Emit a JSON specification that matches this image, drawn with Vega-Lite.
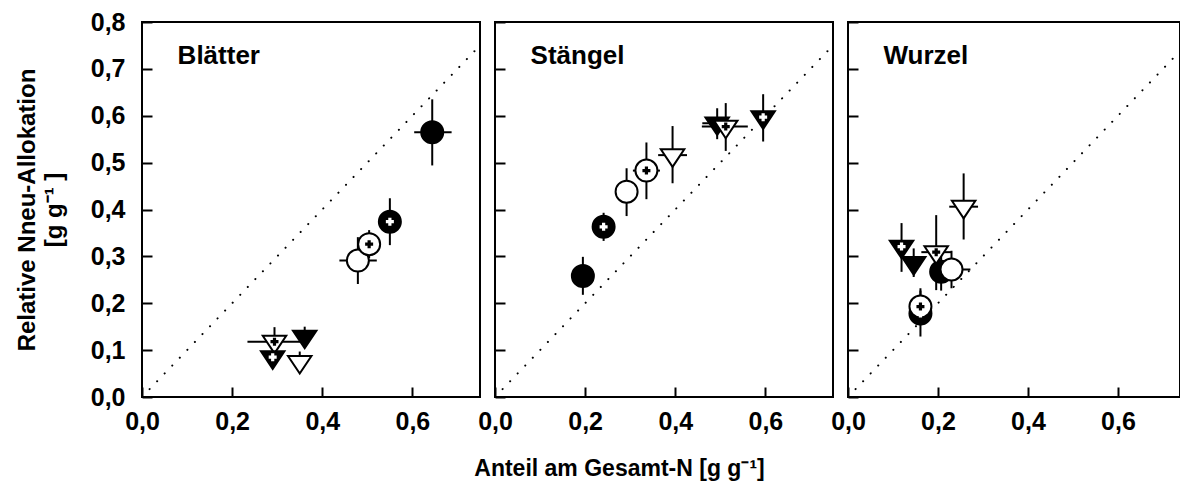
{
  "$schema": "https://vega.github.io/schema/vega-lite/v6.json",
  "padding": {"left": 14, "top": 9, "right": 0, "bottom": 0},
  "background": "white",
  "datasets": {
    "pts": [
      {"panel": "Blätter", "s": "fc", "x": 0.644, "xlo": 0.604, "xhi": 0.687, "y": 0.565, "ylo": 0.494, "yhi": 0.635},
      {"panel": "Blätter", "s": "fcp", "x": 0.550, "xlo": 0.540, "xhi": 0.560, "y": 0.374, "ylo": 0.324, "yhi": 0.424},
      {"panel": "Blätter", "s": "ft", "x": 0.361, "xlo": 0.351, "xhi": 0.371, "y": 0.129, "ylo": 0.110, "yhi": 0.150},
      {"panel": "Blätter", "s": "oc", "x": 0.479, "xlo": 0.438, "xhi": 0.521, "y": 0.291, "ylo": 0.241, "yhi": 0.341},
      {"panel": "Blätter", "s": "ocp", "x": 0.504, "xlo": 0.484, "xhi": 0.524, "y": 0.326, "ylo": 0.296, "yhi": 0.356},
      {"panel": "Blätter", "s": "ot", "x": 0.350, "xlo": 0.340, "xhi": 0.360, "y": 0.075, "ylo": 0.055, "yhi": 0.097},
      {"panel": "Blätter", "s": "otp", "x": 0.294, "xlo": 0.234, "xhi": 0.354, "y": 0.118, "ylo": 0.088, "yhi": 0.149},
      {"panel": "Blätter", "s": "ftp", "x": 0.290, "xlo": 0.280, "xhi": 0.300, "y": 0.085, "ylo": 0.065, "yhi": 0.105},
      {"panel": "Stängel", "s": "fc", "x": 0.195, "xlo": 0.185, "xhi": 0.205, "y": 0.258, "ylo": 0.218, "yhi": 0.299},
      {"panel": "Stängel", "s": "fcp", "x": 0.241, "xlo": 0.231, "xhi": 0.251, "y": 0.363, "ylo": 0.333, "yhi": 0.393},
      {"panel": "Stängel", "s": "ft", "x": 0.493, "xlo": 0.460, "xhi": 0.526, "y": 0.584, "ylo": 0.550, "yhi": 0.616},
      {"panel": "Stängel", "s": "oc", "x": 0.292, "xlo": 0.282, "xhi": 0.302, "y": 0.438, "ylo": 0.386, "yhi": 0.488},
      {"panel": "Stängel", "s": "ocp", "x": 0.336, "xlo": 0.306, "xhi": 0.366, "y": 0.483, "ylo": 0.422, "yhi": 0.543},
      {"panel": "Stängel", "s": "ot", "x": 0.394, "xlo": 0.362, "xhi": 0.426, "y": 0.516, "ylo": 0.456, "yhi": 0.578},
      {"panel": "Stängel", "s": "otp", "x": 0.512, "xlo": 0.459, "xhi": 0.561, "y": 0.577, "ylo": 0.525, "yhi": 0.627},
      {"panel": "Stängel", "s": "ftp", "x": 0.595, "xlo": 0.585, "xhi": 0.605, "y": 0.597, "ylo": 0.545, "yhi": 0.646},
      {"panel": "Wurzel", "s": "fc", "x": 0.207, "xlo": 0.192, "xhi": 0.222, "y": 0.267, "ylo": 0.227, "yhi": 0.307},
      {"panel": "Wurzel", "s": "fcp", "x": 0.161, "xlo": 0.151, "xhi": 0.171, "y": 0.178, "ylo": 0.129, "yhi": 0.227},
      {"panel": "Wurzel", "s": "ft", "x": 0.146, "xlo": 0.136, "xhi": 0.156, "y": 0.286, "ylo": 0.256, "yhi": 0.317},
      {"panel": "Wurzel", "s": "oc", "x": 0.230, "xlo": 0.190, "xhi": 0.272, "y": 0.272, "ylo": 0.232, "yhi": 0.312},
      {"panel": "Wurzel", "s": "ocp", "x": 0.161, "xlo": 0.151, "xhi": 0.171, "y": 0.193, "ylo": 0.153, "yhi": 0.232},
      {"panel": "Wurzel", "s": "ot", "x": 0.257, "xlo": 0.225, "xhi": 0.289, "y": 0.406, "ylo": 0.336, "yhi": 0.477},
      {"panel": "Wurzel", "s": "otp", "x": 0.196, "xlo": 0.163, "xhi": 0.229, "y": 0.309, "ylo": 0.228, "yhi": 0.388},
      {"panel": "Wurzel", "s": "ftp", "x": 0.119, "xlo": 0.109, "xhi": 0.129, "y": 0.321, "ylo": 0.267, "yhi": 0.371}
    ]
  },
  "hconcat": [
    {
      "width": 338, "height": 375,
      "layer": [
        {"data": {"values": [{"d": 0}, {"d": 0.75}]},
         "mark": {"type": "line", "color": "black", "strokeWidth": 2, "strokeCap": "round", "strokeDash": [0.1, 10.8], "clip": true},
         "encoding": {
           "x": {"field": "d", "type": "quantitative", "scale": {"domain": [0, 0.75], "nice": false, "zero": false},
                 "axis": {"values": [0, 0.2, 0.4, 0.6], "labelExpr": "replace(format(datum.value, '.1f'), '.', ',')", "title": null}},
           "y": {"field": "d", "type": "quantitative", "scale": {"domain": [0, 0.8], "nice": false, "zero": false},
                 "axis": {"values": [0, 0.1, 0.2, 0.3, 0.4, 0.5, 0.6, 0.7, 0.8], "labelExpr": "replace(format(datum.value, '.1f'), '.', ',')",
                          "title": ["Relative Nneu-Allokation", "[g g⁻¹ ]"], "titlePadding": 24, "titleLineHeight": 27}}
         }},
        {"data": {"name": "pts"}, "transform": [{"filter": "datum.panel === 'Blätter'"}],
         "mark": {"type": "rule", "color": "black", "strokeWidth": 2},
         "encoding": {"x": {"field": "x", "type": "quantitative"}, "y": {"field": "ylo", "type": "quantitative"}, "y2": {"field": "yhi"}}},
        {"data": {"name": "pts"}, "transform": [{"filter": "datum.panel === 'Blätter'"}],
         "mark": {"type": "rule", "color": "black", "strokeWidth": 2},
         "encoding": {"x": {"field": "xlo", "type": "quantitative"}, "x2": {"field": "xhi"}, "y": {"field": "y", "type": "quantitative"}}},
        {"data": {"name": "pts"}, "transform": [{"filter": "datum.panel === 'Blätter'"}],
         "mark": {"type": "point", "filled": true, "opacity": 1, "stroke": "black", "strokeWidth": 2},
         "encoding": {
           "x": {"field": "x", "type": "quantitative"},
           "y": {"field": "y", "type": "quantitative"},
           "shape": {"field": "s", "type": "nominal", "legend": null, "scale": {"domain": ["fc", "fcp", "oc", "ocp", "ft", "ftp", "ot", "otp"], "range": ["circle", "circle", "circle", "circle", "M-1,-0.5L1,-0.5L0,1Z", "M-1,-0.5L1,-0.5L0,1Z", "M-1,-0.5L1,-0.5L0,1Z", "M-1,-0.5L1,-0.5L0,1Z"]}},
           "size": {"condition": {"test": "datum.s === 'ft' || datum.s === 'ftp' || datum.s === 'ot' || datum.s === 'otp'", "value": 550}, "value": 484},
           "fill": {"condition": {"test": "datum.s === 'fc' || datum.s === 'fcp' || datum.s === 'ft' || datum.s === 'ftp'", "value": "black"}, "value": "white"}
         }},
        {"data": {"name": "pts"}, "transform": [{"filter": "datum.panel === 'Blätter'"}, {"filter": {"field": "s", "oneOf": ["fcp", "ftp", "ocp", "otp"]}}],
         "mark": {"type": "point", "shape": "cross", "filled": true, "opacity": 1, "size": 64, "strokeWidth": 0},
         "encoding": {
           "x": {"field": "x", "type": "quantitative"},
           "y": {"field": "y", "type": "quantitative"},
           "fill": {"condition": {"test": "datum.s === 'fcp' || datum.s === 'ftp'", "value": "white"}, "value": "black"}
         }},
        {"data": {"values": [{"label": "Blätter"}]},
         "mark": {"type": "text", "align": "left", "baseline": "alphabetic", "fontSize": 26, "fontWeight": "bold", "font": "Liberation Sans", "color": "black"},
         "encoding": {"x": {"datum": 0.079, "type": "quantitative"}, "y": {"datum": 0.71, "type": "quantitative"}, "text": {"field": "label"}}}
      ]
    },
    {
      "width": 338, "height": 375,
      "layer": [
        {"data": {"values": [{"d": 0}, {"d": 0.75}]},
         "mark": {"type": "line", "color": "black", "strokeWidth": 2, "strokeCap": "round", "strokeDash": [0.1, 10.8], "clip": true},
         "encoding": {
           "x": {"field": "d", "type": "quantitative", "scale": {"domain": [0, 0.75], "nice": false, "zero": false},
                 "axis": {"values": [0, 0.2, 0.4, 0.6], "labelExpr": "replace(format(datum.value, '.1f'), '.', ',')", "title": "Anteil am Gesamt-N [g g⁻¹]", "titleX": 124, "titlePadding": 23, "titleFontSize": 23}},
           "y": {"field": "d", "type": "quantitative", "scale": {"domain": [0, 0.8], "nice": false, "zero": false},
                 "axis": {"values": [0, 0.1, 0.2, 0.3, 0.4, 0.5, 0.6, 0.7, 0.8], "labels": false, "title": null}}
         }},
        {"data": {"name": "pts"}, "transform": [{"filter": "datum.panel === 'Stängel'"}],
         "mark": {"type": "rule", "color": "black", "strokeWidth": 2},
         "encoding": {"x": {"field": "x", "type": "quantitative"}, "y": {"field": "ylo", "type": "quantitative"}, "y2": {"field": "yhi"}}},
        {"data": {"name": "pts"}, "transform": [{"filter": "datum.panel === 'Stängel'"}],
         "mark": {"type": "rule", "color": "black", "strokeWidth": 2},
         "encoding": {"x": {"field": "xlo", "type": "quantitative"}, "x2": {"field": "xhi"}, "y": {"field": "y", "type": "quantitative"}}},
        {"data": {"name": "pts"}, "transform": [{"filter": "datum.panel === 'Stängel'"}],
         "mark": {"type": "point", "filled": true, "opacity": 1, "stroke": "black", "strokeWidth": 2},
         "encoding": {
           "x": {"field": "x", "type": "quantitative"},
           "y": {"field": "y", "type": "quantitative"},
           "shape": {"field": "s", "type": "nominal", "legend": null, "scale": {"domain": ["fc", "fcp", "oc", "ocp", "ft", "ftp", "ot", "otp"], "range": ["circle", "circle", "circle", "circle", "M-1,-0.5L1,-0.5L0,1Z", "M-1,-0.5L1,-0.5L0,1Z", "M-1,-0.5L1,-0.5L0,1Z", "M-1,-0.5L1,-0.5L0,1Z"]}},
           "size": {"condition": {"test": "datum.s === 'ft' || datum.s === 'ftp' || datum.s === 'ot' || datum.s === 'otp'", "value": 550}, "value": 484},
           "fill": {"condition": {"test": "datum.s === 'fc' || datum.s === 'fcp' || datum.s === 'ft' || datum.s === 'ftp'", "value": "black"}, "value": "white"}
         }},
        {"data": {"name": "pts"}, "transform": [{"filter": "datum.panel === 'Stängel'"}, {"filter": {"field": "s", "oneOf": ["fcp", "ftp", "ocp", "otp"]}}],
         "mark": {"type": "point", "shape": "cross", "filled": true, "opacity": 1, "size": 64, "strokeWidth": 0},
         "encoding": {
           "x": {"field": "x", "type": "quantitative"},
           "y": {"field": "y", "type": "quantitative"},
           "fill": {"condition": {"test": "datum.s === 'fcp' || datum.s === 'ftp'", "value": "white"}, "value": "black"}
         }},
        {"data": {"values": [{"label": "Stängel"}]},
         "mark": {"type": "text", "align": "left", "baseline": "alphabetic", "fontSize": 26, "fontWeight": "bold", "font": "Liberation Sans", "color": "black"},
         "encoding": {"x": {"datum": 0.079, "type": "quantitative"}, "y": {"datum": 0.71, "type": "quantitative"}, "text": {"field": "label"}}}
      ]
    },
    {
      "width": 332, "height": 375,
      "layer": [
        {"data": {"values": [{"d": 0}, {"d": 0.75}]},
         "mark": {"type": "line", "color": "black", "strokeWidth": 2, "strokeCap": "round", "strokeDash": [0.1, 10.8], "clip": true},
         "encoding": {
           "x": {"field": "d", "type": "quantitative", "scale": {"domain": [0, 0.7378], "nice": false, "zero": false},
                 "axis": {"values": [0, 0.2, 0.4, 0.6], "labelExpr": "replace(format(datum.value, '.1f'), '.', ',')", "title": null}},
           "y": {"field": "d", "type": "quantitative", "scale": {"domain": [0, 0.8], "nice": false, "zero": false},
                 "axis": {"values": [0, 0.1, 0.2, 0.3, 0.4, 0.5, 0.6, 0.7, 0.8], "labels": false, "title": null}}
         }},
        {"data": {"name": "pts"}, "transform": [{"filter": "datum.panel === 'Wurzel'"}],
         "mark": {"type": "rule", "color": "black", "strokeWidth": 2},
         "encoding": {"x": {"field": "x", "type": "quantitative"}, "y": {"field": "ylo", "type": "quantitative"}, "y2": {"field": "yhi"}}},
        {"data": {"name": "pts"}, "transform": [{"filter": "datum.panel === 'Wurzel'"}],
         "mark": {"type": "rule", "color": "black", "strokeWidth": 2},
         "encoding": {"x": {"field": "xlo", "type": "quantitative"}, "x2": {"field": "xhi"}, "y": {"field": "y", "type": "quantitative"}}},
        {"data": {"name": "pts"}, "transform": [{"filter": "datum.panel === 'Wurzel'"}],
         "mark": {"type": "point", "filled": true, "opacity": 1, "stroke": "black", "strokeWidth": 2},
         "encoding": {
           "x": {"field": "x", "type": "quantitative"},
           "y": {"field": "y", "type": "quantitative"},
           "shape": {"field": "s", "type": "nominal", "legend": null, "scale": {"domain": ["fc", "fcp", "oc", "ocp", "ft", "ftp", "ot", "otp"], "range": ["circle", "circle", "circle", "circle", "M-1,-0.5L1,-0.5L0,1Z", "M-1,-0.5L1,-0.5L0,1Z", "M-1,-0.5L1,-0.5L0,1Z", "M-1,-0.5L1,-0.5L0,1Z"]}},
           "size": {"condition": {"test": "datum.s === 'ft' || datum.s === 'ftp' || datum.s === 'ot' || datum.s === 'otp'", "value": 550}, "value": 484},
           "fill": {"condition": {"test": "datum.s === 'fc' || datum.s === 'fcp' || datum.s === 'ft' || datum.s === 'ftp'", "value": "black"}, "value": "white"}
         }},
        {"data": {"name": "pts"}, "transform": [{"filter": "datum.panel === 'Wurzel'"}, {"filter": {"field": "s", "oneOf": ["fcp", "ftp", "ocp", "otp"]}}],
         "mark": {"type": "point", "shape": "cross", "filled": true, "opacity": 1, "size": 64, "strokeWidth": 0},
         "encoding": {
           "x": {"field": "x", "type": "quantitative"},
           "y": {"field": "y", "type": "quantitative"},
           "fill": {"condition": {"test": "datum.s === 'fcp' || datum.s === 'ftp'", "value": "white"}, "value": "black"}
         }},
        {"data": {"values": [{"label": "Wurzel"}]},
         "mark": {"type": "text", "align": "left", "baseline": "alphabetic", "fontSize": 26, "fontWeight": "bold", "font": "Liberation Sans", "color": "black"},
         "encoding": {"x": {"datum": 0.079, "type": "quantitative"}, "y": {"datum": 0.71, "type": "quantitative"}, "text": {"field": "label"}}}
      ]
    }
  ],
  "spacing": 15,
  "bounds": "flush",
  "config": {
    "view": {"stroke": "black", "strokeWidth": 2},
    "axis": {"domain": false, "grid": false, "ticks": true, "tickSize": -10, "tickWidth": 2, "tickColor": "black",
             "labelFont": "Liberation Sans", "labelFontSize": 25, "labelFontWeight": "bold", "labelColor": "black",
             "labelFlush": false, "labelOverlap": false,
             "titleFont": "Liberation Sans", "titleFontSize": 24, "titleFontWeight": "bold", "titleColor": "black"},
    "axisX": {"labelPadding": 22},
    "axisY": {"labelPadding": 27}
  }
}
